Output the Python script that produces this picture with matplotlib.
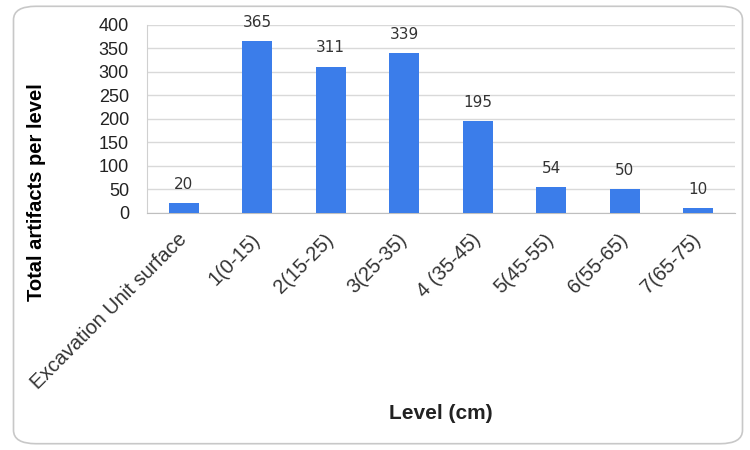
import numpy as np
import matplotlib.pyplot as plt
from matplotlib.patches import FancyBboxPatch

# Artifact counts by excavation level
levels = ['Excavation Unit surface', '1(0-15)', '2(15-25)', '3(25-35)',
          '4 (35-45)', '5(45-55)', '6(55-65)', '7(65-75)']
counts = [20, 365, 311, 339, 195, 54, 50, 10]
yticks = [0, 50, 100, 150, 200, 250, 300, 350, 400]

plt.rcParams['font.family'] = ['Liberation Sans', 'DejaVu Sans']

fig = plt.figure(figsize=(7.5, 4.5), dpi=100)
ax = fig.add_axes([0.196, 0.527, 0.784, 0.418])

# rounded outer frame
frame = FancyBboxPatch((0.018, 0.014), 0.972, 0.972,
                       boxstyle='round,pad=0,rounding_size=0.03',
                       transform=fig.transFigure, facecolor='none',
                       edgecolor='#c8c8c8', linewidth=1.2)
fig.patches.append(frame)

x = np.arange(len(levels))
bars = ax.bar(x, counts, width=0.41, color='#3b7dea', zorder=3)

for xi, v in zip(x, counts):
    ax.annotate(str(v), (xi, v), xytext=(0, 8), textcoords='offset points',
                ha='center', va='bottom', fontsize=11, color='#333333',
                family='DejaVu Sans')

ax.set_ylim(0, 400)
ax.set_xlim(-0.5, len(levels) - 0.5)
ax.set_yticks(yticks)
ax.tick_params(axis='y', length=0, labelsize=13, pad=13, colors='#222222')
ax.tick_params(axis='x', length=0, pad=17)
ax.set_xticks(x)
ax.set_xticklabels(levels, rotation=45, ha='right', va='center',
                   rotation_mode='anchor', fontsize=14.5, color='#333333')
ax.yaxis.grid(True, color='#d9d9d9', linewidth=1, zorder=0)

for s in ['top', 'right']:
    ax.spines[s].set_visible(False)
ax.spines['left'].set_color('#d0d0d0')
ax.spines['bottom'].set_color('#bfbfbf')

ax.set_ylabel('Total artifacts per level', fontsize=14.5, fontweight='bold')
ax.yaxis.set_label_coords(-0.171, 0.11)
fig.text(0.588, 0.082, 'Level (cm)', ha='center', va='center',
         fontsize=15, fontweight='bold', color='#222222')

fig.savefig('out.png', dpi=100)
